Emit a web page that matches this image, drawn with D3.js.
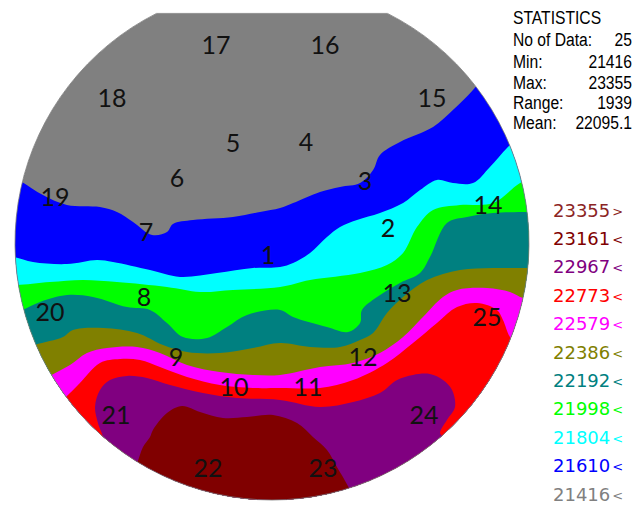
<!DOCTYPE html>
<html>
<head>
<meta charset="utf-8">
<script src="https://cdn.jsdelivr.net/npm/d3@7"></script>
<style>
  html, body { margin: 0; padding: 0; background: #fff; }
  svg { display: block; }
</style>
</head>
<body>
<svg id="chart" width="644" height="505"></svg>
<script>
// ---- Wafer map data (coordinates in mm, wafer radius 150 mm) ----
const waferRadius = 150;
const flatY = 134;            // top flat of the wafer, mm

// Contour levels (legend, top to bottom)
const levels = [23355, 23161, 22967, 22773, 22579, 22386, 22192, 21998, 21804, 21610, 21416];
const levelSigns = [">", "<", "<", "<", "<", "<", "<", "<", "<", "<", "<"];
const levelColors = ["#8b2424", "#800000", "#800080", "#ff0000", "#ff00ff", "#808000",
                     "#008080", "#00ff00", "#00ffff", "#0000ff", "#808080"];

// Upper edge of each band, traced left to right (mm)
const edge21610 = [[-153,40],[-145.9,35.6],[-133.7,28],[-119.7,22.2],[-100.4,21],[-90.5,18.1],[-81.1,12.3],
  [-70,4.7],[-61.3,6.4],[-57.8,11.1],[-46.1,13.4],[-22.8,15.2],[-7,18.1],[4.7,20.4],[12.3,23.3],[28,29.8],
  [39.7,32.7],[51.4,35],[59,42.6],[63,51.4],[74.7,59],[94,67.7],[105.6,77.6],[117.3,89.3],[127.2,101]];
const edge21804 = [[-155,-8],[-150.6,-8.2],[-139.5,-11.1],[-119.7,-12.3],[-102.1,-9.9],[-92.8,-11.1],
  [-71.2,-15.8],[-53.7,-19.8],[-32.1,-17.5],[-11.1,-14.6],[4.7,-14],[12.3,-11.7],[22.2,-5.8],[32.1,3.5],
  [39.7,9.3],[49.6,13.4],[63,17.5],[76.5,23.3],[86.4,30.9],[96.3,36.8],[105.6,35],[117.3,35],[127.2,44.4],
  [137.7,56],[152,70]];
const edge21998 = [[-155,-24],[-148.8,-24.5],[-129.6,-22.8],[-110.3,-21.6],[-90.5,-22.8],[-61.3,-25.7],
  [-42,-28.6],[-22.8,-27.4],[4.7,-25.7],[22.2,-21.6],[51.4,-17.5],[67.1,-12.8],[76.5,-5.8],[84.6,9.3],
  [94,19.3],[109.7,22.2],[129,23.3],[144.8,35],[156,40]];
const edge22192 = [[-156,-42],[-145.9,-39.1],[-135.4,-34.4],[-119.7,-30.4],[-104.5,-31.5],[-84.6,-37.4],
  [-71.2,-39.1],[-61.3,-46.7],[-51.9,-54.9],[-37.9,-55.4],[-26.3,-49],[-14.6,-42],[4.7,-39.1],[12.3,-43.2],
  [32.1,-49],[44.4,-51.9],[51.4,-46.7],[52.5,-39.1],[61.3,-31.5],[74.7,-23.3],[86.4,-17.5],[92.2,-8.2],
  [102.1,11.7],[113.8,15.2],[129,17.5],[149.4,18.1],[158,18]];
const edge22386 = [[-150,-64],[-138.3,-59.5],[-122,-54.9],[-116.2,-50.8],[-98.6,-49.6],[-78.8,-52.5],
  [-63.6,-59.5],[-49.6,-63.6],[-30.4,-64.2],[-11.1,-61.3],[4.7,-58.4],[22.2,-60.7],[39.7,-60.7],
  [51.4,-56.6],[59,-52.5],[67.1,-40.9],[76.5,-31.5],[90.5,-21.6],[109.7,-15.8],[129,-14.6],[149.4,-14.6],[158,-14]];
const edge22579 = [[-140,-84],[-129.6,-77.6],[-117.9,-71.2],[-108,-64.2],[-96.3,-61.3],[-78.8,-60.7],
  [-65.4,-64.2],[-49.6,-71.2],[-30.4,-75.3],[-11.1,-77],[4.7,-77],[28,-72.4],[47.3,-70],[63,-64.2],
  [76.5,-54.9],[88.1,-43.2],[99.8,-31.5],[108,-27.4],[125.5,-26.3],[138.9,-28.6],[146.5,-32.1],[158,-34]];
const edge22773 = [[-130,-100],[-120.8,-90.5],[-112.1,-81.7],[-100.4,-70],[-88.7,-67.7],[-77,-68.3],
  [-65.4,-72.4],[-49.6,-78.2],[-30.4,-82.9],[-11.1,-84.6],[4.7,-84.6],[28,-84.6],[47.3,-80],[67.1,-70],
  [82.3,-58.4],[96.3,-46.7],[108,-37.4],[119.7,-35],[131.3,-39.1],[134.8,-44.9],[140.1,-56.6],[150,-62]];
const edge22967 = [[-102,-119],[-98.6,-115],[-101.6,-105.1],[-103.3,-95.7],[-100.4,-85.8],[-94.6,-80],
  [-84.6,-77.6],[-73,-78.8],[-59.5,-82.9],[-40.3,-87.6],[-20.4,-90.5],[4.7,-91.6],[28,-95.7],[47.3,-92.8],
  [63,-87.6],[73,-80],[82.3,-77],[92.2,-76.5],[99.8,-80],[105.1,-85.8],[106.8,-95.7],[102.1,-103.3],
  [98.1,-110.9],[99.8,-113.2],[104,-118]];
const edge23161 = [[-82,-133],[-78.8,-128.4],[-75.3,-119.1],[-71.2,-113.2],[-69.5,-109.1],[-61.3,-99.2],
  [-52.5,-95.1],[-42,-98.6],[-28.6,-102.1],[-14.6,-101.6],[0.6,-100.4],[14.6,-105.1],[23.9,-113.2],
  [32.1,-120.8],[37.9,-130.7],[41.4,-136.6],[45.5,-144.2],[48,-150]];

// Measurement sites (mm)
const siteIds = d3.range(1, 26);
const siteXY = [[-2.3,-7],[67.7,8.8],[54.3,36.2],[19.8,59],[-22.8,58.4],[-55.4,37.9],[-73.5,6.4],
  [-74.7,-31.5],[-56,-66.5],[-22.2,-84],[21,-84],[53.1,-66.5],[73,-29.2],[126.1,22.2],[93.4,84.6],
  [30.9,115.6],[-32.7,115.6],[-93.4,84.6],[-126.7,26.8],[-129.6,-40.3],[-91.1,-100.4],[-37.4,-131.3],
  [29.8,-131.3],[88.7,-100.4],[125.5,-43.2]];

// Statistics box
const statTitle = "STATISTICS";
const statNames = ["No of Data:", "Min:", "Max:", "Range:", "Mean:"];
const statValues = ["25", "21416", "23355", "1939", "22095.1"];

// ---- Drawing ----
const svg = d3.select("#chart");
const cx = 272, cy = 243, R = 257;
const x = d3.scaleLinear().domain([-waferRadius, waferRadius]).range([cx - R, cx + R]);
const y = d3.scaleLinear().domain([-waferRadius, waferRadius]).range([cy + R, cy - R]);

// wafer outline: circle with a flat at the top
const hw = Math.sqrt(waferRadius * waferRadius - flatY * flatY);
const a0 = Math.atan2(y(flatY) - cy, x(hw) - cx);
const a1 = Math.atan2(y(flatY) - cy, x(-hw) - cx) + 2 * Math.PI;
const wp = d3.path();
wp.moveTo(x(-hw), y(flatY));
wp.lineTo(x(hw), y(flatY));
wp.arc(cx, cy, R, a0, a1, false);
wp.closePath();
const waferPath = wp.toString();

svg.append("defs").append("clipPath").attr("id", "wafer")
  .append("path").attr("d", waferPath);

const map = svg.append("g").attr("clip-path", "url(#wafer)");

// base (lowest level) fills the whole wafer
map.append("path").attr("d", waferPath).attr("fill", levelColors[10]);

const bands = [
  { level: 21610, edge: edge21610 },
  { level: 21804, edge: edge21804 },
  { level: 21998, edge: edge21998 },
  { level: 22192, edge: edge22192 },
  { level: 22386, edge: edge22386 },
  { level: 22579, edge: edge22579 },
  { level: 22773, edge: edge22773 },
  { level: 22967, edge: edge22967 },
  { level: 23161, edge: edge23161 }
];

// smooth contour edge, then closed off far outside the wafer below it
const edgeLine = d3.line().x(d => x(d[0])).y(d => y(d[1])).curve(d3.curveCatmullRom.alpha(0.5));
const far = 220;
bands.forEach(b => {
  const e = b.edge;
  const tail = [[far, e[e.length - 1][1]], [far, -far], [-far, -far], [-far, e[0][1]]];
  const d = edgeLine(e) + tail.map(p => "L" + x(p[0]) + "," + y(p[1])).join("") + "Z";
  map.append("path")
    .attr("d", d)
    .attr("fill", levelColors[levels.indexOf(b.level)]);
});

svg.append("path").attr("d", waferPath)
  .attr("fill", "none").attr("stroke", "#7a7a7a").attr("stroke-width", 0.8);

// site numbers
svg.append("g").selectAll("text").data(siteIds).join("text")
  .attr("x", (d, i) => x(siteXY[i][0]))
  .attr("y", (d, i) => y(siteXY[i][1]))
  .attr("dy", "0.36em")
  .attr("text-anchor", "middle")
  .attr("font-family", "Lato, 'Open Sans', sans-serif")
  .attr("font-size", 25)
  .attr("fill", "#111")
  .text(d => d);

// statistics block
const stats = svg.append("g")
  .attr("transform", "translate(513,0) scale(0.87,1)")
  .attr("font-family", "'Liberation Sans', Arial, sans-serif")
  .attr("font-size", 18)
  .attr("fill", "#000");
const statBase = [24.5, 46.5, 68.5, 89, 109, 129.3];
stats.append("text").attr("x", 0).attr("y", statBase[0]).text(statTitle);
statNames.forEach((n, i) => {
  stats.append("text").attr("x", 0).attr("y", statBase[i + 1]).text(n);
  stats.append("text").attr("x", (632 - 513) / 0.87).attr("y", statBase[i + 1])
    .attr("text-anchor", "end").text(statValues[i]);
});

// legend
const leg = svg.append("g")
  .attr("font-family", "'DejaVu Sans', Verdana, sans-serif")
  .attr("font-size", 18);
levels.forEach((v, i) => {
  const t = leg.append("text")
    .attr("x", 553)
    .attr("y", 216.5 + i * 28.4)
    .attr("fill", levelColors[i]);
  t.append("tspan").text(v);
  t.append("tspan").attr("font-size", 13).attr("dx", 2).attr("dy", -1).text(levelSigns[i]);
});
</script>
</body>
</html>
